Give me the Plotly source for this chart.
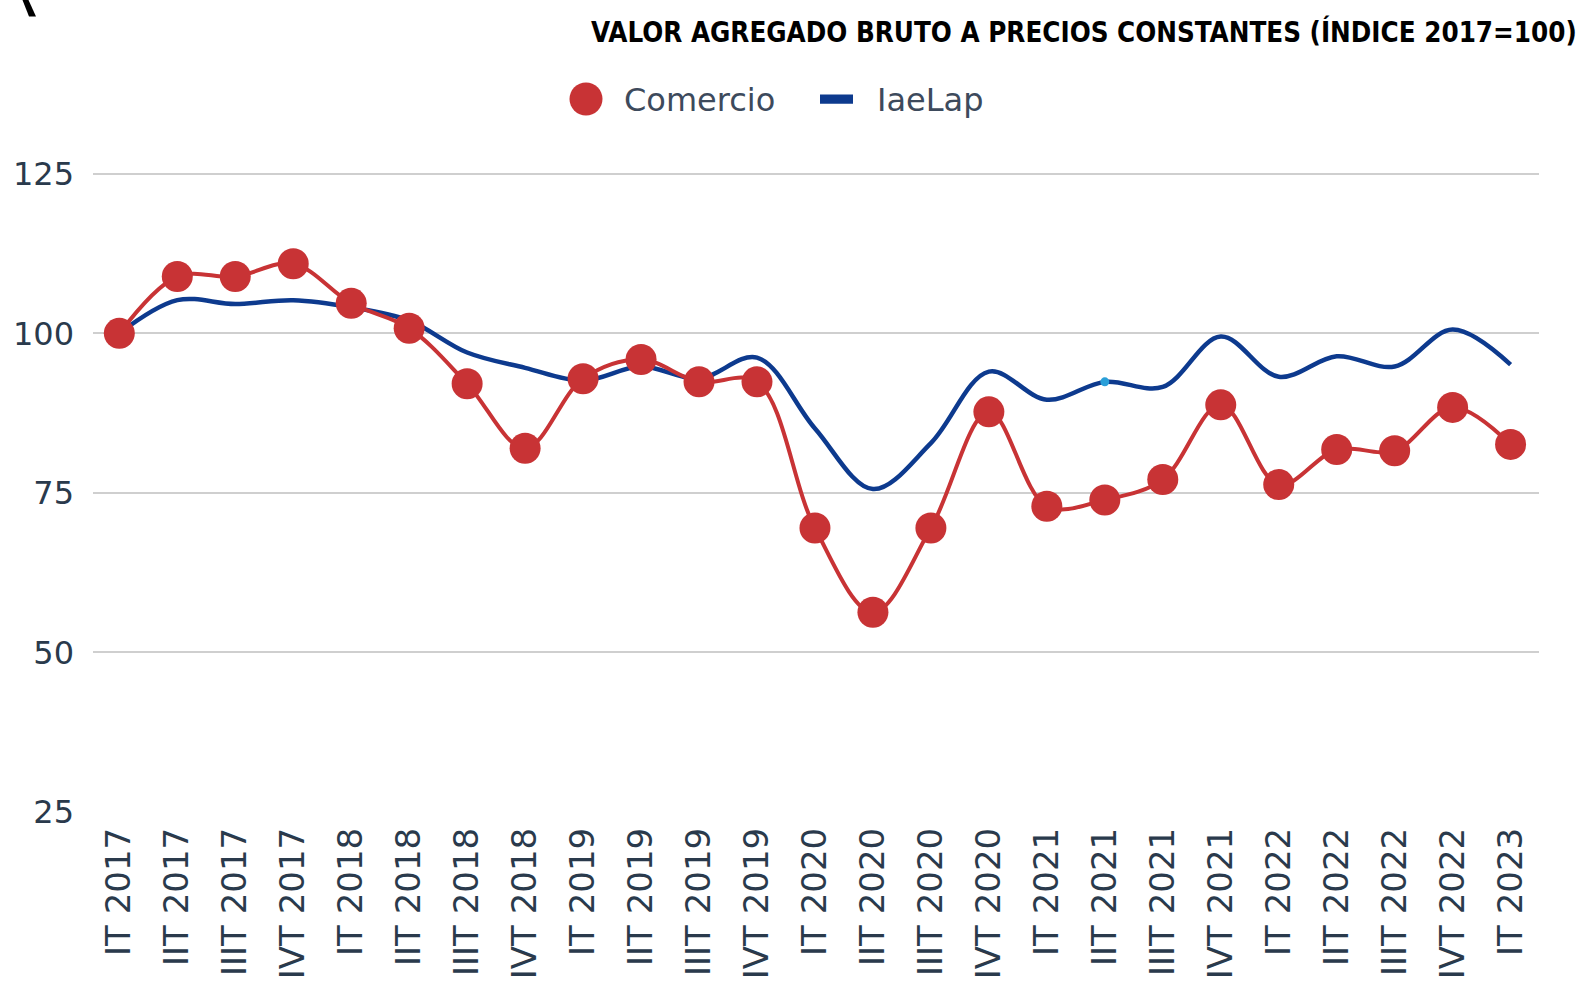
import plotly.graph_objects as go

categories = ["IT 2017", "IIT 2017", "IIIT 2017", "IVT 2017",
              "IT 2018", "IIT 2018", "IIIT 2018", "IVT 2018",
              "IT 2019", "IIT 2019", "IIIT 2019", "IVT 2019",
              "IT 2020", "IIT 2020", "IIIT 2020", "IVT 2020",
              "IT 2021", "IIT 2021", "IIIT 2021", "IVT 2021",
              "IT 2022", "IIT 2022", "IIIT 2022", "IVT 2022",
              "IT 2023"]

comercio = [100.0, 108.9, 108.9, 110.9,
            104.7, 100.8, 92.1, 82.0,
            92.9, 95.9, 92.4, 92.4,
            69.5, 56.3, 69.5, 87.7,
            72.9, 73.9, 77.1, 88.8,
            76.3, 81.8, 81.6, 88.4,
            82.6]

iaelap = [100.0, 105.2, 104.6, 105.2,
          104.1, 102.0, 97.0, 94.6,
          92.6, 94.8, 92.9, 96.2,
          85.1, 75.6, 82.8, 94.0,
          89.6, 92.4, 91.6, 99.5,
          93.2, 96.4, 94.8, 100.6,
          95.1]

highlight_index = 17
y_ticks = [25, 50, 75, 100, 125]

series_names = ["Comercio", "IaeLap"]
title_text = "VALOR AGREGADO BRUTO A PRECIOS CONSTANTES (ÍNDICE 2017=100)"

RED = "#c83335"
BLUE = "#0d3a8e"

W, H = 1585, 983
ML, MR, MT, MB = 93, 46, 110, 171
PW, PH = W - ML - MR, H - MT - MB


def px2x(px):
    return (px - ML) / PW


def py2y(py):
    return 1 - (py - MT) / PH


fig = go.Figure()

fig.add_trace(go.Scatter(
    x=categories, y=iaelap, name=series_names[1], mode="lines",
    line=dict(color=BLUE, width=4.5, shape="spline", smoothing=1),
))
fig.add_trace(go.Scatter(
    x=[categories[highlight_index]], y=[iaelap[highlight_index]],
    mode="markers", showlegend=False,
    marker=dict(color="#2a9fd8", size=9),
))
fig.add_trace(go.Scatter(
    x=categories, y=comercio, name=series_names[0], mode="lines+markers",
    line=dict(color=RED, width=4, shape="spline", smoothing=1),
    marker=dict(color=RED, size=31),
))

# legend drawn as shapes + text (large symbols like the original)
stroke = [(22.5, 0), (28.5, 0), (36, 16.5), (29, 16.5)]
stroke_path = "M " + " L ".join(f"{px2x(a):.5f},{py2y(b):.5f}" for a, b in stroke) + " Z"

shapes = [
    dict(type="circle", xref="paper", yref="paper",
         x0=px2x(569.5), x1=px2x(602.5), y0=py2y(115.5), y1=py2y(82.5),
         fillcolor=RED, line=dict(width=0)),
    dict(type="rect", xref="paper", yref="paper",
         x0=px2x(820), x1=px2x(853), y0=py2y(103.8), y1=py2y(94.5),
         fillcolor=BLUE, line=dict(width=0)),
    dict(type="path", xref="paper", yref="paper", path=stroke_path,
         fillcolor="black", line=dict(width=0)),
]
legend_texts = [
    dict(text=series_names[0], xref="paper", yref="paper",
         x=px2x(622), y=py2y(99.5), xanchor="left", yanchor="middle",
         showarrow=False, font=dict(size=32, color="#3d4a5c")),
    dict(text=series_names[1], xref="paper", yref="paper",
         x=px2x(875), y=py2y(99.5), xanchor="left", yanchor="middle",
         showarrow=False, font=dict(size=32, color="#3d4a5c")),
]

fig.update_layout(
    width=W, height=H,
    margin=dict(l=ML, r=MR, t=MT, b=MB, autoexpand=False),
    paper_bgcolor="white", plot_bgcolor="white",
    font=dict(family="DejaVu Sans", color="#2a3f5f"),
    showlegend=False,
    xaxis=dict(
        type="category", range=[-0.454, 24.49],
        tickangle=-90, showgrid=False, showline=False, zeroline=False,
        ticks="", tickfont=dict(size=34, color="#2a3a4c"),
        ticklabelstandoff=8, automargin=False,
    ),
    yaxis=dict(
        range=[25, 135], tickvals=y_ticks,
        showgrid=True, gridcolor="#cfcfcf", gridwidth=2,
        zeroline=False, showline=False, ticks="",
        tickfont=dict(size=32, color="#2a3a4c"),
        ticklabelstandoff=18, automargin=False,
    ),
    shapes=shapes,
    annotations=legend_texts + [
        dict(text=title_text, xref="paper", yref="paper",
             x=px2x(1579), y=py2y(50.5), xanchor="right", yanchor="bottom",
             showarrow=False,
             font=dict(family="DejaVu Sans Condensed, sans-serif",
                       size=27.5, color="black", weight="bold")),
    ],
)

fig.write_html(
    "out.html",
    config={"displayModeBar": False},
    post_script="document.body.style.margin='0px';document.body.style.overflow='hidden';",
)
